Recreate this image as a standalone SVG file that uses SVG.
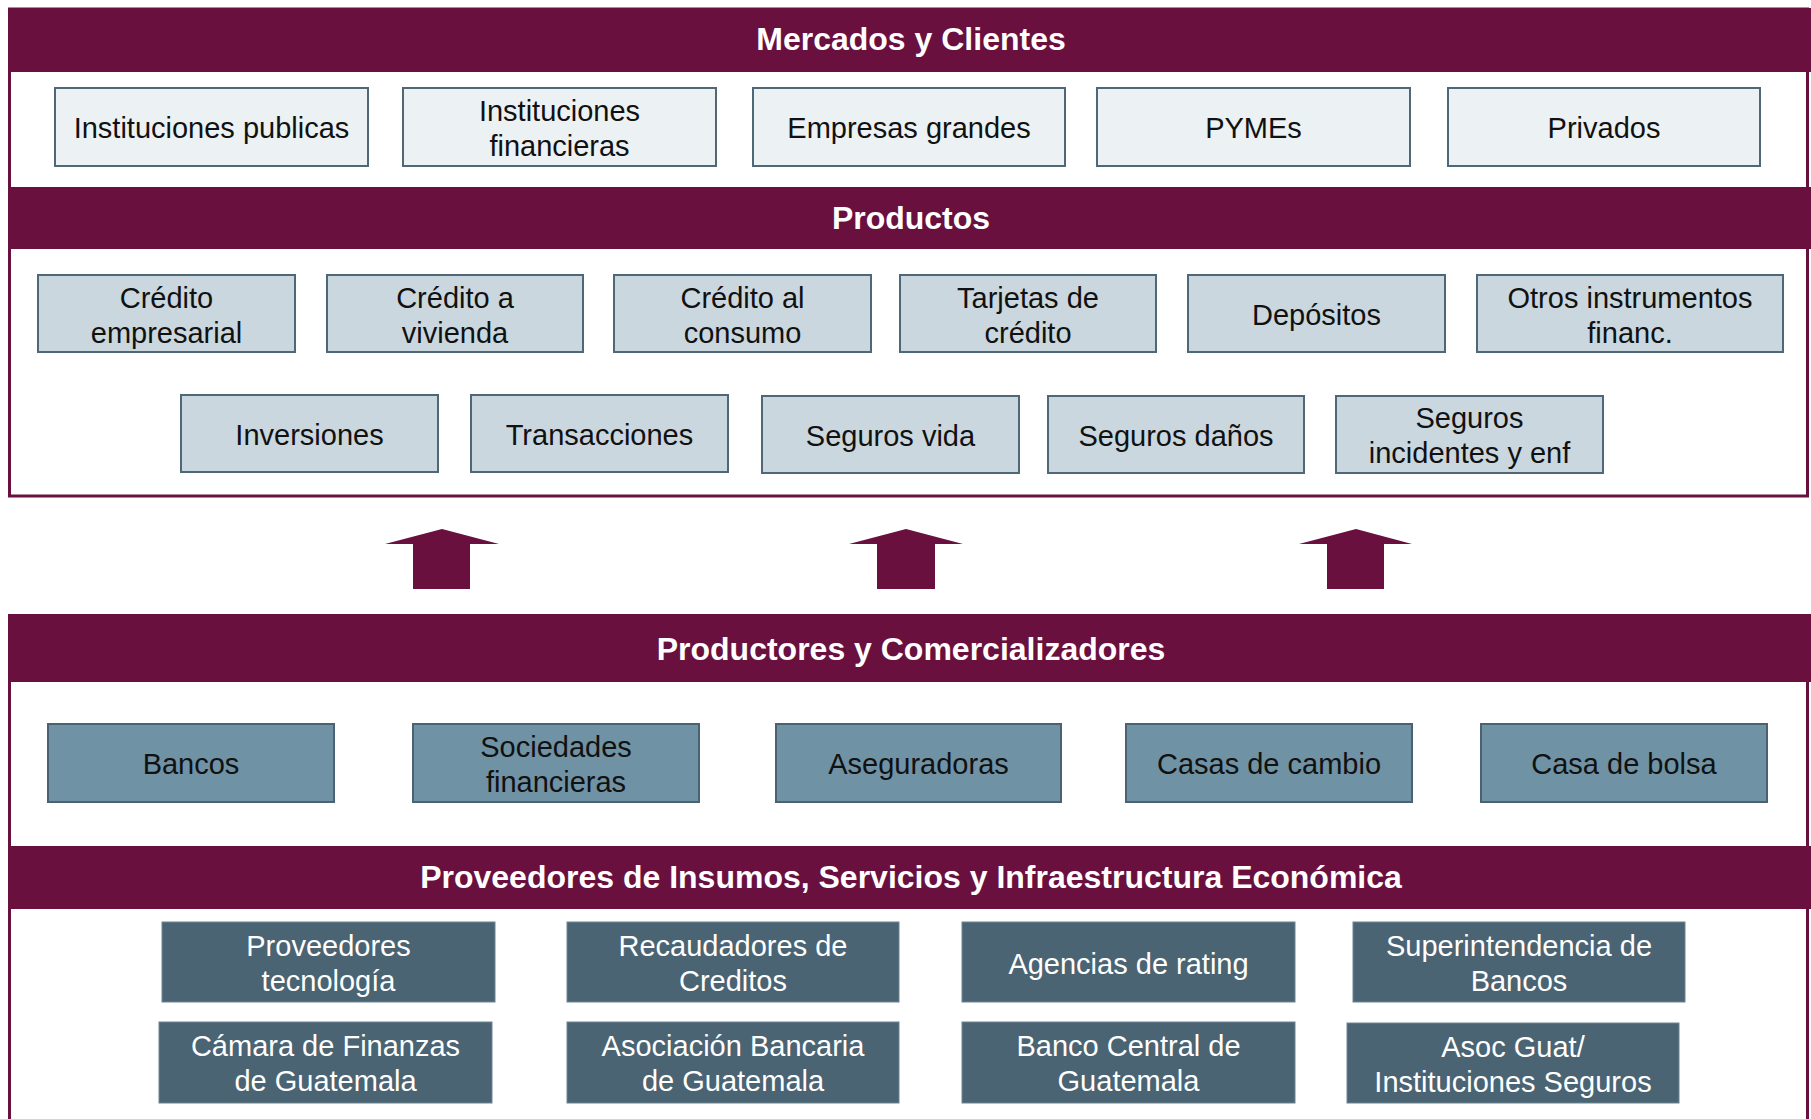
<svg xmlns="http://www.w3.org/2000/svg" width="1811" height="1119" viewBox="0 0 1811 1119">
<style>
.frame{fill:#ffffff;stroke:#69103f;stroke-width:3}
.bar{fill:#69103f}
.title{font-family:"Liberation Sans",Arial,sans-serif;font-weight:bold;font-size:32px;fill:#ffffff;text-anchor:middle}
.t{font-family:"Liberation Sans",Arial,sans-serif;font-size:29px;fill:#111111;text-anchor:middle}
.tw{font-family:"Liberation Sans",Arial,sans-serif;font-size:29px;fill:#ffffff;text-anchor:middle}
.b1{fill:#ecf1f4;stroke:#4f6878;stroke-width:2}
.b2{fill:#cad7df;stroke:#4f6878;stroke-width:2}
.b3{fill:#6f92a5;stroke:#4a6272;stroke-width:2}
.b4{fill:#4a6473;stroke:#6d8593;stroke-width:1}
.arrow{fill:#69103f}
</style>
<rect width="1811" height="1119" fill="#ffffff"/>

<g id="top-section">
<rect class="frame" x="9.5" y="9" width="1798" height="487"/>
<rect class="bar" x="8" y="8" width="1803" height="64"/>
<text class="title" x="911" y="50">Mercados y Clientes</text>
<rect class="bar" x="8" y="187" width="1803" height="62"/>
<text class="title" x="911" y="229">Productos</text>
</g>

<g id="n-inst-publicas"><rect class="b1" x="55" y="88" width="313" height="78"/><text class="t" x="211.5" y="137.5">Instituciones publicas</text></g>
<g id="n-inst-financieras"><rect class="b1" x="403" y="88" width="313" height="78"/><text class="t" x="559.5" y="121">Instituciones</text><text class="t" x="559.5" y="156">financieras</text></g>
<g id="n-empresas"><rect class="b1" x="753" y="88" width="312" height="78"/><text class="t" x="909" y="137.5">Empresas grandes</text></g>
<g id="n-pymes"><rect class="b1" x="1097" y="88" width="313" height="78"/><text class="t" x="1253.5" y="137.5">PYMEs</text></g>
<g id="n-privados"><rect class="b1" x="1448" y="88" width="312" height="78"/><text class="t" x="1604" y="137.5">Privados</text></g>

<g id="n-cred-emp"><rect class="b2" x="38" y="275" width="257" height="77"/><text class="t" x="166.5" y="308">Crédito</text><text class="t" x="166.5" y="343">empresarial</text></g>
<g id="n-cred-viv"><rect class="b2" x="327" y="275" width="256" height="77"/><text class="t" x="455" y="308">Crédito a</text><text class="t" x="455" y="343">vivienda</text></g>
<g id="n-cred-cons"><rect class="b2" x="614" y="275" width="257" height="77"/><text class="t" x="742.5" y="308">Crédito al</text><text class="t" x="742.5" y="343">consumo</text></g>
<g id="n-tarjetas"><rect class="b2" x="900" y="275" width="256" height="77"/><text class="t" x="1028" y="308">Tarjetas de</text><text class="t" x="1028" y="343">crédito</text></g>
<g id="n-depositos"><rect class="b2" x="1188" y="275" width="257" height="77"/><text class="t" x="1316.5" y="325">Depósitos</text></g>
<g id="n-otros"><rect class="b2" x="1477" y="275" width="306" height="77"/><text class="t" x="1630" y="308">Otros instrumentos</text><text class="t" x="1630" y="343">financ.</text></g>

<g id="n-inversiones"><rect class="b2" x="181" y="395" width="257" height="77"/><text class="t" x="309.5" y="445">Inversiones</text></g>
<g id="n-transacciones"><rect class="b2" x="471" y="395" width="257" height="77"/><text class="t" x="599.5" y="445">Transacciones</text></g>
<g id="n-seg-vida"><rect class="b2" x="762" y="396" width="257" height="77"/><text class="t" x="890.5" y="446">Seguros vida</text></g>
<g id="n-seg-danos"><rect class="b2" x="1048" y="396" width="256" height="77"/><text class="t" x="1176" y="446">Seguros daños</text></g>
<g id="n-seg-inc"><rect class="b2" x="1336" y="396" width="267" height="77"/><text class="t" x="1469.5" y="428">Seguros</text><text class="t" x="1469.5" y="463">incidentes y enf</text></g>

<g id="connectors">
<polygon class="arrow" points="442,529 499,544 470,544 470,589 413,589 413,544 385,544"/>
<polygon class="arrow" points="906,529 963,544 935,544 935,589 877,589 877,544 849,544"/>
<polygon class="arrow" points="1356,529 1412,544 1384,544 1384,589 1327,589 1327,544 1299,544"/>
</g>

<g id="bottom-section">
<path d="M9.5,614 V1119 M1807.5,682 V1119" fill="none" stroke="#69103f" stroke-width="3"/>
<rect class="bar" x="8" y="614" width="1803" height="68"/>
<text class="title" x="911" y="660">Productores y Comercializadores</text>
<rect class="bar" x="8" y="846" width="1803" height="63"/>
<text class="title" x="911" y="888">Proveedores de Insumos, Servicios y Infraestructura Económica</text>
</g>

<g id="n-bancos"><rect class="b3" x="48" y="724" width="286" height="78"/><text class="t" x="191" y="774">Bancos</text></g>
<g id="n-sociedades"><rect class="b3" x="413" y="724" width="286" height="78"/><text class="t" x="556" y="757">Sociedades</text><text class="t" x="556" y="792">financieras</text></g>
<g id="n-aseguradoras"><rect class="b3" x="776" y="724" width="285" height="78"/><text class="t" x="918.5" y="774">Aseguradoras</text></g>
<g id="n-casas-cambio"><rect class="b3" x="1126" y="724" width="286" height="78"/><text class="t" x="1269" y="774">Casas de cambio</text></g>
<g id="n-casa-bolsa"><rect class="b3" x="1481" y="724" width="286" height="78"/><text class="t" x="1624" y="774">Casa de bolsa</text></g>

<g id="n-prov-tec"><rect class="b4" x="162" y="922" width="333" height="80"/><text class="tw" x="328.5" y="956">Proveedores</text><text class="tw" x="328.5" y="991">tecnología</text></g>
<g id="n-recaudadores"><rect class="b4" x="567" y="922" width="332" height="80"/><text class="tw" x="733" y="956">Recaudadores de</text><text class="tw" x="733" y="991">Creditos</text></g>
<g id="n-agencias"><rect class="b4" x="962" y="922" width="333" height="80"/><text class="tw" x="1128.5" y="973.5">Agencias de rating</text></g>
<g id="n-superintendencia"><rect class="b4" x="1353" y="922" width="332" height="80"/><text class="tw" x="1519" y="956">Superintendencia de</text><text class="tw" x="1519" y="991">Bancos</text></g>

<g id="n-camara"><rect class="b4" x="159" y="1022" width="333" height="81"/><text class="tw" x="325.5" y="1056">Cámara de Finanzas</text><text class="tw" x="325.5" y="1091">de Guatemala</text></g>
<g id="n-asociacion"><rect class="b4" x="567" y="1022" width="332" height="81"/><text class="tw" x="733" y="1056">Asociación Bancaria</text><text class="tw" x="733" y="1091">de Guatemala</text></g>
<g id="n-banco-central"><rect class="b4" x="962" y="1022" width="333" height="81"/><text class="tw" x="1128.5" y="1056">Banco Central de</text><text class="tw" x="1128.5" y="1091">Guatemala</text></g>
<g id="n-asoc-guat"><rect class="b4" x="1347" y="1023" width="332" height="80"/><text class="tw" x="1513" y="1057">Asoc Guat/</text><text class="tw" x="1513" y="1092">Instituciones Seguros</text></g>
</svg>
